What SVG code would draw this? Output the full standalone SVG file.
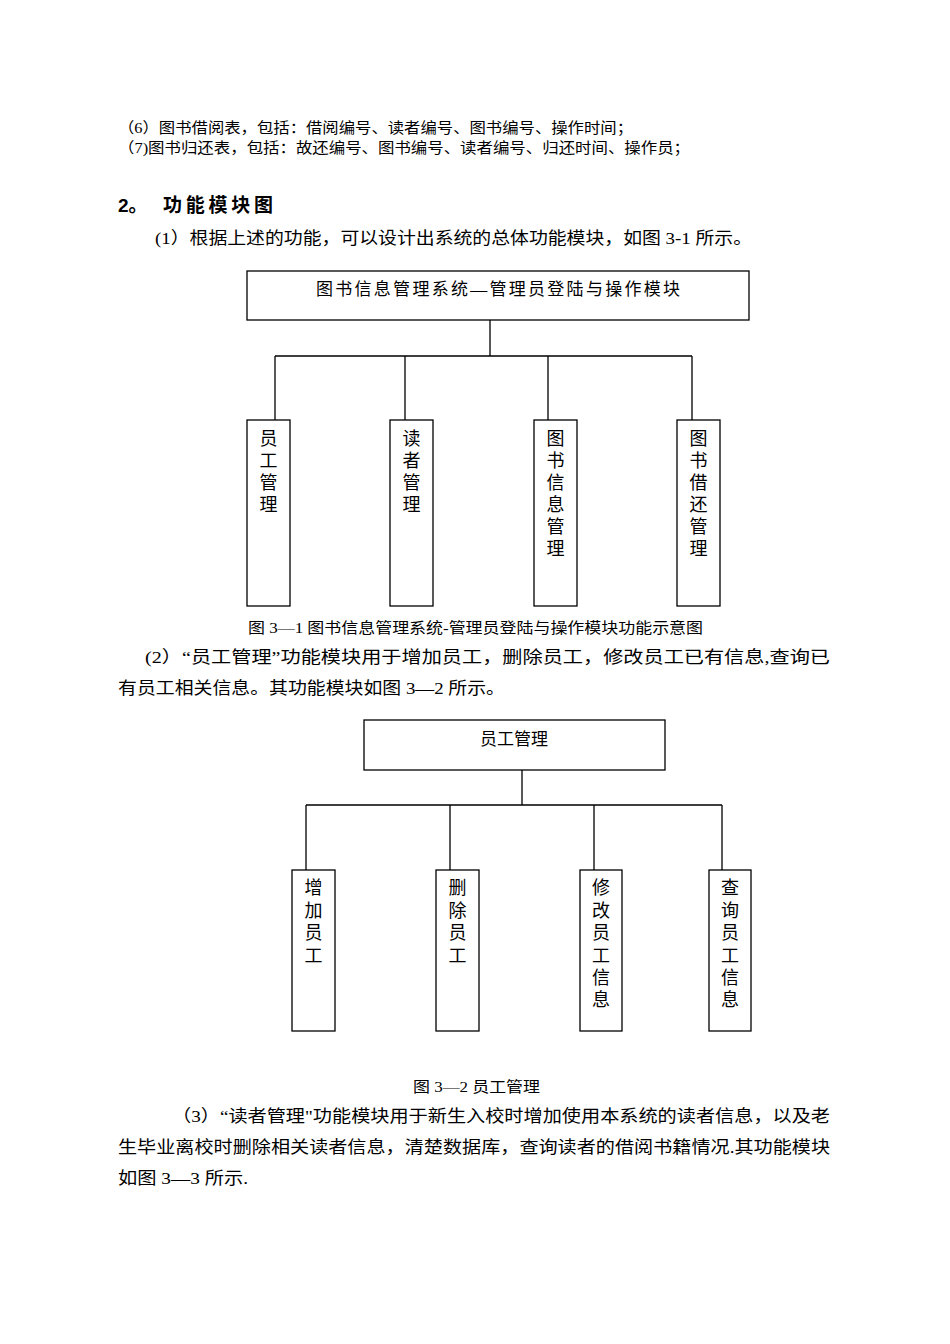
<svg xmlns="http://www.w3.org/2000/svg" width="950" height="1344" viewBox="0 0 950 1344">
<style>
text{font-family:"Liberation Serif","Noto Sans CJK SC",serif;fill:#000}
.s{font-size:15px}.b{font-size:17px}.v{font-size:18px;text-anchor:middle}
.h{font-family:"Liberation Sans","Noto Sans CJK SC",sans-serif;font-size:19px;font-weight:bold}
rect{fill:#fff;stroke:#000;stroke-width:1.3}
.c path{fill:none;stroke:#000;stroke-width:1.3}
</style>
<rect x="0" y="0" width="950" height="1344" style="stroke:none"/>
<text class="s" x="118" y="133" textLength="515" lengthAdjust="spacingAndGlyphs">（6）图书借阅表，包括：借阅编号、读者编号、图书编号、操作时间；</text>
<text class="s" x="118" y="153" textLength="572" lengthAdjust="spacingAndGlyphs">（7)图书归还表，包括：故还编号、图书编号、读者编号、归还时间、操作员；</text>
<text class="h" x="118" y="212">2。</text>
<text class="h" x="163" y="212" textLength="110">功能模块图</text>
<text class="b" x="155" y="244" textLength="597" lengthAdjust="spacingAndGlyphs">(1）根据上述的功能，可以设计出系统的总体功能模块，如图 3-1 所示。</text>
<g class="c">
<path d="M490 320V356M275 356H692M275 356V420M405 356V420M548 356V420M692 356V420"/>
<path d="M522 770V805M306 805H722M306 805V870M450 805V870M594 805V870M722 805V870"/>
</g>
<g id="top1"><rect x="247" y="271" width="502" height="49"/><text class="b" x="498" y="295" text-anchor="middle" textLength="364">图书信息管理系统—管理员登陆与操作模块</text></g>
<g id="n1"><rect x="247" y="420" width="43" height="186"/><text class="v" x="268.5" y="445">员</text><text class="v" x="268.5" y="467">工</text><text class="v" x="268.5" y="489">管</text><text class="v" x="268.5" y="511">理</text></g>
<g id="n2"><rect x="390" y="420" width="43" height="186"/><text class="v" x="411.5" y="445">读</text><text class="v" x="411.5" y="467">者</text><text class="v" x="411.5" y="489">管</text><text class="v" x="411.5" y="511">理</text></g>
<g id="n3"><rect x="534" y="420" width="43" height="186"/><text class="v" x="555.5" y="445">图</text><text class="v" x="555.5" y="467">书</text><text class="v" x="555.5" y="489">信</text><text class="v" x="555.5" y="511">息</text><text class="v" x="555.5" y="533">管</text><text class="v" x="555.5" y="555">理</text></g>
<g id="n4"><rect x="677" y="420" width="43" height="186"/><text class="v" x="698.5" y="445">图</text><text class="v" x="698.5" y="467">书</text><text class="v" x="698.5" y="489">借</text><text class="v" x="698.5" y="511">还</text><text class="v" x="698.5" y="533">管</text><text class="v" x="698.5" y="555">理</text></g>
<text class="s" x="248" y="633" textLength="455" lengthAdjust="spacingAndGlyphs">图 3—1  图书信息管理系统-管理员登陆与操作模块功能示意图</text>
<text class="b" x="145" y="663" textLength="685" lengthAdjust="spacingAndGlyphs">(2）“员工管理”功能模块用于增加员工，删除员工，修改员工已有信息,查询已</text>
<text class="b" x="118" y="694" textLength="387" lengthAdjust="spacingAndGlyphs">有员工相关信息。其功能模块如图 3—2 所示。</text>
<g id="top2"><rect x="364" y="720" width="301" height="50"/><text class="b" x="514" y="745" text-anchor="middle">员工管理</text></g>
<g id="m1"><rect x="292" y="870" width="43" height="161"/><text class="v" x="313.5" y="894">增</text><text class="v" x="313.5" y="917">加</text><text class="v" x="313.5" y="939">员</text><text class="v" x="313.5" y="962">工</text></g>
<g id="m2"><rect x="436" y="870" width="43" height="161"/><text class="v" x="457.5" y="894">删</text><text class="v" x="457.5" y="917">除</text><text class="v" x="457.5" y="939">员</text><text class="v" x="457.5" y="962">工</text></g>
<g id="m3"><rect x="580" y="870" width="42" height="161"/><text class="v" x="601" y="894">修</text><text class="v" x="601" y="917">改</text><text class="v" x="601" y="939">员</text><text class="v" x="601" y="962">工</text><text class="v" x="601" y="984">信</text><text class="v" x="601" y="1006">息</text></g>
<g id="m4"><rect x="709" y="870" width="42" height="161"/><text class="v" x="730" y="894">查</text><text class="v" x="730" y="917">询</text><text class="v" x="730" y="939">员</text><text class="v" x="730" y="962">工</text><text class="v" x="730" y="984">信</text><text class="v" x="730" y="1006">息</text></g>
<text class="s" x="413" y="1092" textLength="127" lengthAdjust="spacingAndGlyphs">图 3—2  员工管理</text>
<text class="b" x="172" y="1122" textLength="658" lengthAdjust="spacingAndGlyphs">（3）“读者管理"功能模块用于新生入校时增加使用本系统的读者信息，以及老</text>
<text class="b" x="118" y="1153" textLength="712" lengthAdjust="spacingAndGlyphs">生毕业离校时删除相关读者信息，清楚数据库，查询读者的借阅书籍情况.其功能模块</text>
<text class="b" x="118" y="1184" textLength="130" lengthAdjust="spacingAndGlyphs">如图 3—3 所示.</text>
</svg>
